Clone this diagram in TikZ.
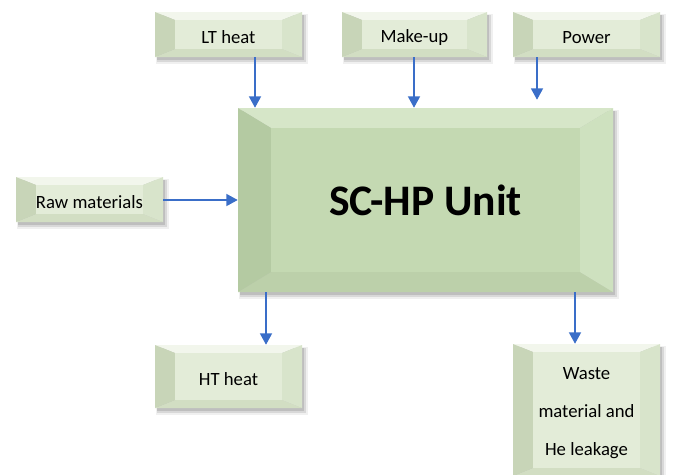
\documentclass[tikz,border=0pt]{standalone}
\usepackage{fontspec}
\setmainfont{Carlito}
\usetikzlibrary{arrows.meta}

% bevel colours, small boxes and the unit
\definecolor{smface}{RGB}{227,236,216}
\definecolor{smtop}{RGB}{242,246,236}
\definecolor{smleft}{RGB}{200,213,184}
\definecolor{smright}{RGB}{216,228,203}
\definecolor{smbot}{RGB}{210,222,195}
\definecolor{bgface}{RGB}{196,217,178}
\definecolor{bgtop}{RGB}{214,230,200}
\definecolor{bgleft}{RGB}{180,202,162}
\definecolor{bgright}{RGB}{206,225,191}
\definecolor{bgbot}{RGB}{188,208,170}
\definecolor{flowblue}{RGB}{58,110,200}

\tikzset{
  flow/.style={draw=flowblue, line width=1pt, -{Triangle[width=8.5pt,length=8pt]}},
  boxtext/.style={inner sep=0pt, align=center}
}

\def\txtdrop{3}
% name, x1, y1, x2, y2, bevel x, bevel y, colour set, text
\newcommand{\bevbox}[9]{%
  \fill[black, opacity=0.06] (#2+1,#3+2) rectangle (#4+6,#5+7);
  \fill[black, opacity=0.10] (#2+2,#3+3) rectangle (#4+4,#5+5);
  \fill[black, opacity=0.12] (#2+2,#3+3) rectangle (#4+2,#5+3);
  \fill[#8top] (#2,#3) -- (#4,#3) -- (#4-#6,#3+#7) -- (#2+#6,#3+#7) -- cycle;
  \fill[#8bot] (#2,#5) -- (#4,#5) -- (#4-#6,#5-#7) -- (#2+#6,#5-#7) -- cycle;
  \fill[#8left] (#2,#3) -- (#2+#6,#3+#7) -- (#2+#6,#5-#7) -- (#2,#5) -- cycle;
  \fill[#8right] (#4,#3) -- (#4-#6,#3+#7) -- (#4-#6,#5-#7) -- (#4,#5) -- cycle;
  \fill[#8face] (#2+#6,#3+#7) rectangle (#4-#6,#5-#7);
  \node[inner sep=0pt, minimum width={(#4-#2)*0.025cm}, minimum height={(#5-#3)*0.025cm}]
    (#1) at ({(#2+#4)/2},{(#3+#5)/2}) {};
  \node[boxtext] (#1-text) at ({(#2+#4)/2},{(#3+#5)/2+\txtdrop}) {#9};
}

\begin{document}
\begin{tikzpicture}[x=0.025cm, y=-0.025cm, font=\fontsize{13.3}{16}\selectfont]

    \useasboundingbox (0,0) rectangle (675,474);
    \clip (0,0) rectangle (675,474);

    \bevbox{lt}{155}{12}{302}{57}{20}{8}{sm}{LT heat}
    \bevbox{mu}{342}{12}{487}{57}{20}{8}{sm}{Make-up}
    \bevbox{pw}{513}{12}{660}{57}{20}{8}{sm}{Power}
    \bevbox{raw}{16}{177}{163}{222}{20}{8}{sm}{Raw materials}
    \bevbox{ht}{155}{345}{302}{408}{20}{8}{sm}{HT heat}
    \bevbox{waste}{513}{344}{660}{476}{20}{8}{sm}{Waste\\[11pt]material and\\[11pt]He leakage}
    \def\txtdrop{0}
    \bevbox{unit}{238}{108}{613}{292}{33}{20}{bg}{\fontsize{31}{36}\selectfont\bfseries SC-HP Unit}

    \coordinate (ltx) at (255,0);
    \coordinate (mux) at (414,0);
    \coordinate (pwx) at (537,0);
    \coordinate (rawy) at (0,200);
    \coordinate (htx) at (266,0);
    \coordinate (wsx) at (575,0);

    \draw[flow] (ltx |- lt.south) -- (ltx |- unit.north);
    \draw[flow] (mux |- mu.south) -- (mux |- unit.north);
    \draw[flow, shorten >=0.2cm] (pwx |- pw.south) -- (pwx |- unit.north);
    \draw[flow] (raw.east |- rawy) -- (unit.west |- rawy);
    \draw[flow] (htx |- unit.south) -- (htx |- ht.north);
    \draw[flow] (wsx |- unit.south) -- (wsx |- waste.north);

\end{tikzpicture}
\end{document}
